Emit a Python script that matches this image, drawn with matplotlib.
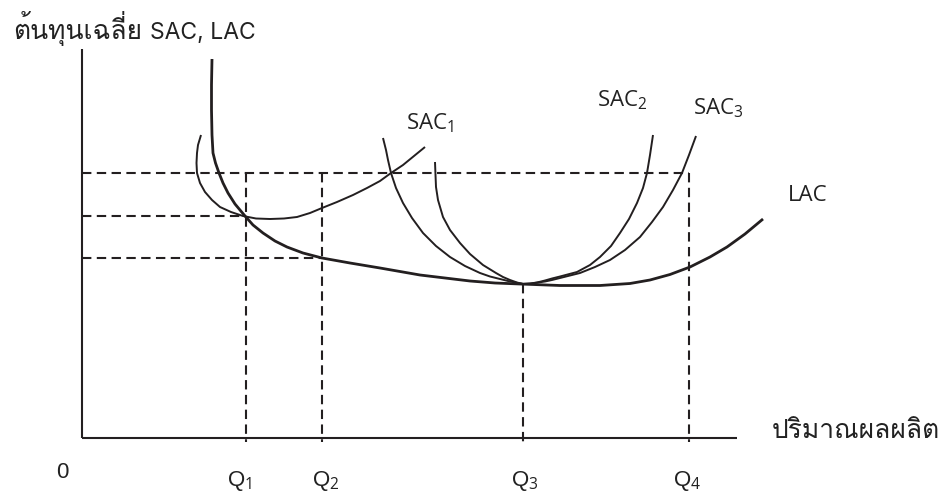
import matplotlib
matplotlib.use("Agg")
import matplotlib.pyplot as plt
from matplotlib import font_manager
from matplotlib.ft2font import FT2Font

# look for an installed font that can draw Thai (Loma looks closest)
thai_fonts = []
for f in font_manager.fontManager.ttflist:
    try:
        cmap = FT2Font(f.fname).get_charmap()
    except Exception:
        continue
    if 0x0E1B in cmap and f.name not in thai_fonts:
        thai_fonts.append(f.name)
if 'Loma' in thai_fonts:
    thai_fonts.remove('Loma')
    thai_fonts.insert(0, 'Loma')
thai_family = thai_fonts[:1] + ['DejaVu Sans']

plt.rcParams['mathtext.fontset'] = 'custom'
plt.rcParams['mathtext.rm'] = 'Open Sans'

## Data
# long run average cost
lac_q = [13.0, 12.95, 12.95, 13.0, 13.1, 13.35, 13.7, 14.1, 14.6, 15.3, 16.3, 17.1,
         18.1, 19.3, 20.5, 22.1, 24.0, 26.8, 29.8, 33.8, 36.3, 38.8, 41.3, 43.8,
         47.8, 51.8, 54.8, 56.8, 58.8, 60.8, 62.8, 64.5, 66.3, 68.1]
lac_c = [37.9, 35.3, 32.8, 30.3, 28.5, 27.5, 26.5, 25.5, 24.5, 23.4, 22.2, 21.3,
         20.5, 19.7, 19.1, 18.5, 18.0, 17.5, 17.0, 16.3, 16.0, 15.7, 15.5, 15.4,
         15.25, 15.25, 15.45, 15.8, 16.35, 17.1, 18.1, 19.1, 20.4, 21.9]

# short run average cost, plant 1
sac1_q = [11.9, 11.6, 11.5, 11.45, 11.5, 11.8, 12.3, 13.0, 13.8, 14.9, 16.1, 17.4,
          18.8, 20.2, 21.5, 22.8, 24.0, 25.5, 27.1, 28.5, 29.8, 30.9, 32.1, 33.2, 34.3]
sac1_c = [30.3, 29.3, 28.5, 27.5, 26.5, 25.5, 24.6, 23.8, 23.1, 22.6, 22.2, 21.95,
          21.9, 21.95, 22.1, 22.5, 23.0, 23.6, 24.3, 25.0, 25.7, 26.5, 27.3, 28.2, 29.1]

# short run average cost, plant 2 (narrow U)
sac2_q = [35.3, 35.35, 35.4, 35.6, 36.1, 36.8, 37.8, 38.8, 40.1, 41.4, 42.1, 42.8,
          43.5, 44.1, 44.8, 45.5, 46.3, 47.0, 47.8, 49.5, 50.8, 51.8, 52.9, 53.8,
          54.7, 55.5, 56.1, 56.5, 56.8, 57.1]
sac2_c = [27.6, 26.3, 25.1, 23.8, 22.1, 20.8, 19.5, 18.4, 17.3, 16.5, 16.1, 15.8,
          15.55, 15.4, 15.45, 15.55, 15.75, 15.95, 16.15, 16.6, 17.3, 18.1, 19.2, 20.5,
          21.9, 23.5, 25.0, 26.5, 28.3, 30.3]

# short run average cost, plant 3 (wide U)
sac3_q = [30.1, 30.4, 30.6, 30.9, 31.4, 32.1, 33.0, 34.1, 35.4, 36.8, 38.3, 39.8,
          40.8, 41.8, 42.6, 43.3, 44.1, 44.9, 45.6, 46.3, 47.0, 47.8, 49.8, 51.3,
          52.8, 54.3, 55.8, 57.0, 58.1, 59.1, 60.0, 60.7, 61.4]
sac3_c = [30.0, 28.8, 27.8, 26.5, 25.0, 23.5, 22.0, 20.5, 19.2, 18.1, 17.2, 16.5,
          16.15, 15.9, 15.7, 15.55, 15.4, 15.45, 15.55, 15.65, 15.8, 16.0, 16.5, 17.1,
          17.8, 18.8, 20.1, 21.6, 23.1, 24.8, 26.5, 28.3, 30.2]

# output levels Q1..Q4 and the costs marked by the dashed guides
q_vals = [16.4, 24.0, 44.1, 60.7]
q_names = ['Q$_\\mathrm{1}$', 'Q$_\\mathrm{2}$', 'Q$_\\mathrm{3}$', 'Q$_\\mathrm{4}$']
q_tops = [26.5, 26.5, 15.4, 26.5]
cost_levels = [26.5, 22.2, 18.0]
cost_ends = [60.7, 16.4, 24.0]

ink = '#231f20'
txt = '#222222'

fig = plt.figure(figsize=(9.44, 4.93), dpi=100)
ax = fig.add_axes([0, 0, 1, 1])
ax.set_xlim(-8.2, 86.2)
ax.set_ylim(-5.5, 43.8)
ax.axis('off')

# axes
ax.plot([0, 0], [0, 38.9], color=ink, lw=1.5, solid_capstyle='butt')
ax.plot([0, 65.5], [0, 0], color=ink, lw=1.5, solid_capstyle='butt')

# dashed guides
dash = (0, (4.5, 2.6))
for c, end in zip(cost_levels, cost_ends):
    ax.plot([0, end], [c, c], color=ink, lw=1.5, linestyle=dash)
for q, top in zip(q_vals, q_tops):
    ax.plot([q, q], [top, -0.35], color=ink, lw=1.5, linestyle=dash)

# cost curves
ax.plot(lac_q, lac_c, color=ink, lw=2.0, solid_joinstyle='round', solid_capstyle='butt')
for qs, cs in [(sac1_q, sac1_c), (sac2_q, sac2_c), (sac3_q, sac3_c)]:
    ax.plot(qs, cs, color=ink, lw=1.4, solid_joinstyle='round', solid_capstyle='butt')

# curve labels
lab = dict(fontsize=16, color=txt, family='Open Sans', va='baseline', ha='left')
ax.text(32.4, 30.9, 'SAC$_\\mathrm{1}$', **lab)
ax.text(51.5, 33.2, 'SAC$_\\mathrm{2}$', **lab)
ax.text(61.1, 32.4, 'SAC$_\\mathrm{3}$', **lab)
ax.text(70.6, 23.7, 'LAC', **lab)

# axis titles
ax.text(-6.9, 39.9, 'ต้นทุนเฉลี่ย', fontsize=19, color=txt,
        family=thai_family, va='baseline', ha='left')
ax.text(6.85, 39.9, 'SAC, LAC', fontsize=16.5, color=txt,
        family='Inter', va='baseline', ha='left')
ax.text(69.0, -0.05, 'ปริมาณผลผลิต', fontsize=19, color=txt,
        family=thai_family, va='baseline', ha='left')

# tick labels
ax.text(-2.0, -3.5, '0', fontsize=16, color=txt, family='Liberation Sans',
        ha='center', va='center')
q_label_x = [14.5, 23.0, 42.9, 59.1]
for x, name in zip(q_label_x, q_names):
    ax.text(x, -4.8, name, fontsize=16, color=txt, family='Liberation Sans',
            ha='left', va='baseline')

fig.savefig('out.png', dpi=100)
